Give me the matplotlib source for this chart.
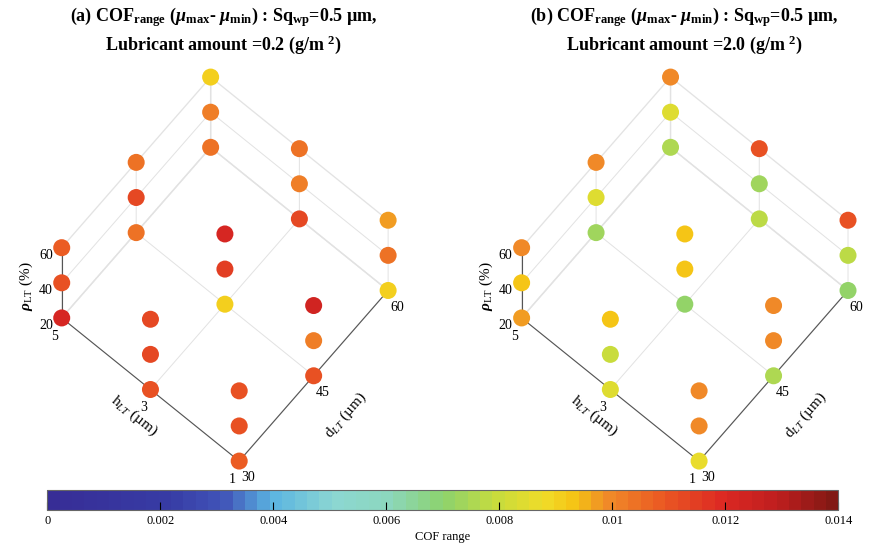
import numpy as np
import matplotlib
matplotlib.use('Agg')
import matplotlib.pyplot as plt
from matplotlib.colors import LinearSegmentedColormap, Normalize
from matplotlib.cm import ScalarMappable

plt.rcParams['font.family'] = ['Liberation Serif', 'DejaVu Serif']
plt.rcParams['mathtext.fontset'] = 'custom'
plt.rcParams['mathtext.rm'] = 'Liberation Serif'
plt.rcParams['mathtext.it'] = 'Liberation Serif:italic'
plt.rcParams['mathtext.bf'] = 'Liberation Serif:bold'
plt.rcParams['mathtext.bfit'] = 'Liberation Serif:bold:italic'
plt.rcParams['grid.color'] = '#e2e2e2'
plt.rcParams['grid.linewidth'] = 0.7

# factor levels
h_vals = [1, 3, 5]        # h_LT (um)
d_vals = [30, 45, 60]     # d_LT (um)
rho_vals = [20, 40, 60]   # rho_LT (%)

# COF range, indexed [h][d][rho]
cof_a = [
    [[0.0109, 0.0111, 0.0111], [0.0111, 0.0101, 0.0123], [0.0090, 0.0104, 0.0097]],
    [[0.0111, 0.0112, 0.0112], [0.0090, 0.0114, 0.0121], [0.0112, 0.0101, 0.0104]],
    [[0.0121, 0.0110, 0.0109], [0.0104, 0.0112, 0.0104], [0.0104, 0.0101, 0.0090]],
]
cof_b = [
    [[0.0087, 0.0100, 0.0099], [0.0075, 0.0100, 0.0100], [0.0071, 0.0077, 0.0110]],
    [[0.0085, 0.0079, 0.0094], [0.0071, 0.0093, 0.0093], [0.0078, 0.0073, 0.0110]],
    [[0.0098, 0.0093, 0.0100], [0.0074, 0.0085, 0.0099], [0.0075, 0.0085, 0.0099]],
]

titles = [
    r"(a) COF$_{\mathbf{range}}$ ($\mathbfit{\mu}_{\mathbf{max}}$- $\mathbfit{\mu}_{\mathbf{min}}$) : Sq$_{\mathbf{wp}}$=0.5 µm," "\n"
    r"Lubricant amount =0.2 (g/m $^{\mathbf{2}}$)",
    r"(b) COF$_{\mathbf{range}}$ ($\mathbfit{\mu}_{\mathbf{max}}$- $\mathbfit{\mu}_{\mathbf{min}}$) : Sq$_{\mathbf{wp}}$=0.5 µm," "\n"
    r"Lubricant amount =2.0 (g/m $^{\mathbf{2}}$)",
]

cof_min, cof_max = 0.0, 0.014
cbar_ticks = [0, 0.002, 0.004, 0.006, 0.008, 0.01, 0.012, 0.014]

# muted jet-like map as seen in the colorbar
cmap_pts = [
    (0.00, '#372d96'), (0.15, '#373ca5'), (0.22, '#4155b9'), (0.28, '#5ab4e1'),
    (0.36, '#8cd7d2'), (0.43, '#8cd7be'), (0.50, '#8cd26e'), (0.57, '#c8dc3c'),
    (0.63, '#f0dc28'), (0.67, '#f5c314'), (0.71, '#f08c28'), (0.78, '#eb5a23'),
    (0.86, '#dc2823'), (0.93, '#be1e1e'), (1.00, '#821914'),
]
cmap = LinearSegmentedColormap.from_list('cof', cmap_pts, N=64)
norm = Normalize(cof_min, cof_max)

fig = plt.figure(figsize=(8.76, 5.5), dpi=100)

H, D, R = np.meshgrid(h_vals, d_vals, rho_vals, indexing='ij')

positions = [[0.0, 0.10, 0.50, 0.80], [0.525, 0.10, 0.50, 0.80]]
title_x = [0.255, 0.781]

for k, cof in enumerate([cof_a, cof_b]):
    ax = fig.add_axes(positions[k], projection='3d', proj_type='ortho')
    ax.set_box_aspect((1, 1, 1.1), zoom=0.92)
    ax.view_init(elev=74, azim=-140)
    c = np.array(cof)
    ax.scatter(D.ravel(), H.ravel(), R.ravel(), c=c.ravel(), cmap=cmap, norm=norm,
               s=150, depthshade=False, edgecolors='none', alpha=1)
    ax.set_xlim(30, 60)
    ax.set_ylim(1, 5)
    ax.set_zlim(20, 60)
    ax.set_xticks(d_vals)
    ax.set_yticks(h_vals)
    ax.set_zticks(rho_vals)
    ax.tick_params(labelsize=10, pad=0)
    ax.set_xlabel(r'd$_{LT}$ (µm)', fontsize=11, labelpad=9)
    ax.set_ylabel(r'h$_{LT}$ (µm)', fontsize=11, labelpad=-3)
    ax.set_zlabel(r'$\mathbfit{\rho}_{\mathrm{LT}}$ (%)', fontsize=11, labelpad=-3)
    for axis in (ax.xaxis, ax.yaxis, ax.zaxis):
        axis.pane.fill = False
        axis.pane.set_edgecolor('#e2e2e2')
        axis.line.set_color('#555555')
        axis._axinfo['grid']['color'] = '#e2e2e2'
        axis._axinfo['grid']['linewidth'] = 0.7
    fig.text(title_x[k], 0.99, titles[k], ha='center', va='top', fontsize=13,
             fontweight='bold', linespacing=1.25)

cax = fig.add_axes([0.054, 0.073, 0.903, 0.036])
cb = fig.colorbar(ScalarMappable(norm=norm, cmap=cmap), cax=cax, orientation='horizontal',
                  ticks=cbar_ticks)
cb.set_ticklabels(['0', '0.002', '0.004', '0.006', '0.008', '0.01', '0.012', '0.014'])
cb.ax.tick_params(labelsize=9, direction='in', length=6, width=0.8)
cb.outline.set_edgecolor('#666666')
cb.set_label('COF range', fontsize=9, labelpad=3)

fig.savefig('out.png', dpi=100)
